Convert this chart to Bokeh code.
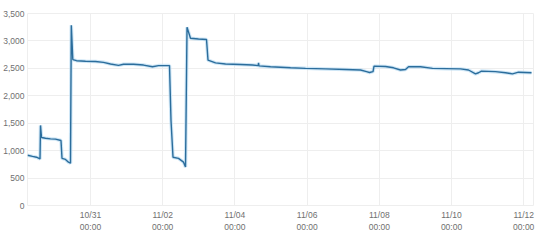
import pandas as pd
from bokeh.plotting import figure
from bokeh.models import FixedTicker, NumeralTickFormatter, Range1d, ColumnDataSource
from bokeh.embed import file_html
from bokeh.resources import INLINE

times = [
    "2016-10-29 06:07", "2016-10-29 09:26", "2016-10-29 12:06", "2016-10-29 14:26",
    "2016-10-29 14:46", "2016-10-29 15:26", "2016-10-29 18:04", "2016-10-29 21:25",
    "2016-10-30 00:44", "2016-10-30 04:23", "2016-10-30 05:03", "2016-10-30 07:22",
    "2016-10-30 09:22", "2016-10-30 10:42", "2016-10-30 11:14", "2016-10-30 12:14",
    "2016-10-30 14:41", "2016-10-30 20:40", "2016-10-31 03:19", "2016-10-31 08:38",
    "2016-10-31 13:18", "2016-10-31 18:37", "2016-10-31 21:56", "2016-11-01 04:35",
    "2016-11-01 11:14", "2016-11-01 17:12", "2016-11-01 21:13", "2016-11-02 04:31",
    "2016-11-02 05:31", "2016-11-02 06:51", "2016-11-02 10:30", "2016-11-02 13:50",
    "2016-11-02 15:10", "2016-11-02 16:10", "2016-11-02 18:28", "2016-11-02 23:48",
    "2016-11-03 05:07", "2016-11-03 06:07", "2016-11-03 11:06", "2016-11-03 17:45",
    "2016-11-04 03:43", "2016-11-04 11:42", "2016-11-04 15:30", "2016-11-04 15:42",
    "2016-11-04 16:00", "2016-11-04 23:40", "2016-11-05 12:58", "2016-11-05 22:56",
    "2016-11-06 12:14", "2016-11-07 01:32", "2016-11-07 11:30", "2016-11-07 15:29",
    "2016-11-07 17:29", "2016-11-07 19:49", "2016-11-07 20:29", "2016-11-08 04:07",
    "2016-11-08 09:26", "2016-11-08 14:05", "2016-11-08 17:25", "2016-11-08 19:25",
    "2016-11-09 03:23", "2016-11-09 11:22", "2016-11-09 20:01", "2016-11-10 05:59",
    "2016-11-10 11:18", "2016-11-10 15:57", "2016-11-10 17:57", "2016-11-10 19:55",
    "2016-11-11 05:15", "2016-11-11 11:54", "2016-11-11 16:33", "2016-11-11 20:33",
    "2016-11-12 05:11",
]
values = [
    915, 895, 880, 850,
    1460, 1240, 1225, 1215,
    1210, 1185, 860, 840,
    790, 770, 3285, 2660,
    2640, 2630, 2625, 2610,
    2580, 2555, 2575, 2575,
    2560, 2530, 2550, 2550,
    1550, 880, 860, 790,
    700, 3250, 3050, 3035,
    3025, 2650, 2600, 2580,
    2570, 2560, 2550, 2600,
    2545, 2530, 2510, 2500,
    2490, 2480, 2470, 2440,
    2425, 2440, 2540, 2535,
    2510, 2470, 2480, 2530,
    2530, 2500, 2495, 2490,
    2470, 2400, 2420, 2450,
    2440, 2420, 2400, 2430,
    2420,
]

x_ticks = ["2016-10-31", "2016-11-02", "2016-11-04", "2016-11-06",
           "2016-11-08", "2016-11-10", "2016-11-12"]
x_tick_labels = ["10/31\n00:00", "11/02\n00:00", "11/04\n00:00", "11/06\n00:00",
                 "11/08\n00:00", "11/10\n00:00", "11/12\n00:00"]
y_ticks = [0, 500, 1000, 1500, 2000, 2500, 3000, 3500]

x_start = "2016-10-29 06:07"
x_end = "2016-11-12 06:30"

def ms(s):
    return pd.Timestamp(s).value / 1e6

src = ColumnDataSource(dict(t=[ms(s) for s in times], v=values))

p = figure(width=540, height=241, output_backend="svg", toolbar_location=None,
           x_range=Range1d(ms(x_start), ms(x_end)), y_range=Range1d(0, 3500),
           min_border_left=27, min_border_right=7, min_border_top=13, min_border_bottom=36)
p.background_fill_color = "white"
p.border_fill_color = "white"
p.outline_line_color = "#eeeeee"

p.line("t", "v", source=src, line_color="#b9dcf2", line_width=3.5, line_alpha=0.7)
p.line("t", "v", source=src, line_color="#2b6d9c", line_width=1.4)

tick_ms = [ms(s) for s in x_ticks]
p.xaxis.ticker = FixedTicker(ticks=tick_ms)
p.xaxis.major_label_overrides = {t: lab for t, lab in zip(tick_ms, x_tick_labels)}
p.yaxis.ticker = FixedTicker(ticks=y_ticks)
p.yaxis.formatter = NumeralTickFormatter(format="0,0")

for ax in (p.xaxis[0], p.yaxis[0]):
    ax.axis_line_color = None
    ax.major_tick_line_color = None
    ax.minor_tick_line_color = None
    ax.major_tick_out = 0
    ax.major_tick_in = 0
    ax.major_label_text_font = "Liberation Sans"
    ax.major_label_text_font_size = "8.5px"
    ax.major_label_text_color = "#707070"
p.yaxis.major_label_standoff = 3
p.xaxis.major_label_standoff = 4
p.xaxis.major_label_text_line_height = 1.25

p.xgrid.ticker = FixedTicker(ticks=tick_ms)
p.ygrid.ticker = FixedTicker(ticks=y_ticks)
p.grid.grid_line_color = "#eeeeee"

open("out.html", "w").write(file_html(p, INLINE))
